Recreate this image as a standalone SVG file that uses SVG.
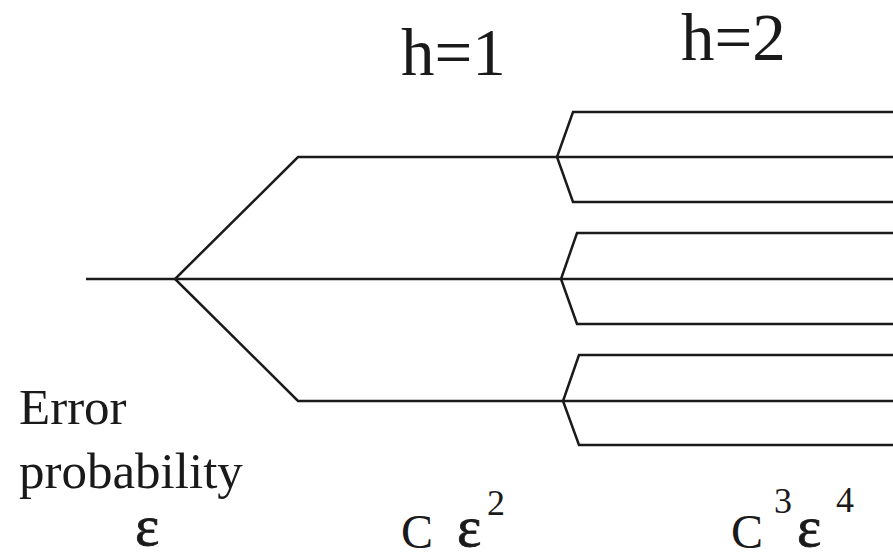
<svg xmlns="http://www.w3.org/2000/svg" width="893" height="559" viewBox="0 0 893 559">
<style>
.l{fill:none;stroke:#1a1a1a;stroke-width:2.5;stroke-linejoin:miter}
text{font-family:"Liberation Serif","Times New Roman",serif;fill:#1a1a1a}
.h{font-size:67px}
.lab{font-size:51px}
.c{font-size:48px}
.eps{font-size:58px;stroke:#1a1a1a;stroke-width:0.8}
.sup{font-size:36px}
</style>
<rect width="893" height="559" fill="#fff"/>
<g id="connectors">
<line class="l" x1="86" y1="279" x2="175" y2="279"/>
<polyline class="l" points="557,157 298,157 175,279 298,401 563,401"/>
<line class="l" x1="175" y1="279" x2="561" y2="279"/>
<polyline class="l" points="893,112 573,112 557,157 573,202 893,202"/>
<line class="l" x1="557" y1="157" x2="893" y2="157"/>
<polyline class="l" points="893,233 577,233 561,279 577,324 893,324"/>
<line class="l" x1="561" y1="279" x2="893" y2="279"/>
<polyline class="l" points="893,355 579,355 563,401 579,445 893,445"/>
<line class="l" x1="563" y1="401" x2="893" y2="401"/>
</g>
<g id="label-h1"><text class="h" x="401" y="75">h=1</text></g>
<g id="label-h2"><text class="h" x="681" y="60">h=2</text></g>
<g id="label-error"><text class="lab" x="19" y="424">Error</text><text class="lab" x="19" y="488">probability</text></g>
<g id="label-eps"><text class="eps" x="135" y="545">ε</text></g>
<g id="label-ce2"><text class="c" x="401" y="548">C</text><text class="eps" x="457" y="546">ε</text><text class="sup" x="487" y="515">2</text></g>
<g id="label-c3e4"><text class="c" x="731" y="548">C</text><text class="sup" x="774" y="513">3</text><text class="eps" x="797" y="546">ε</text><text class="sup" x="836" y="512">4</text></g>
</svg>
